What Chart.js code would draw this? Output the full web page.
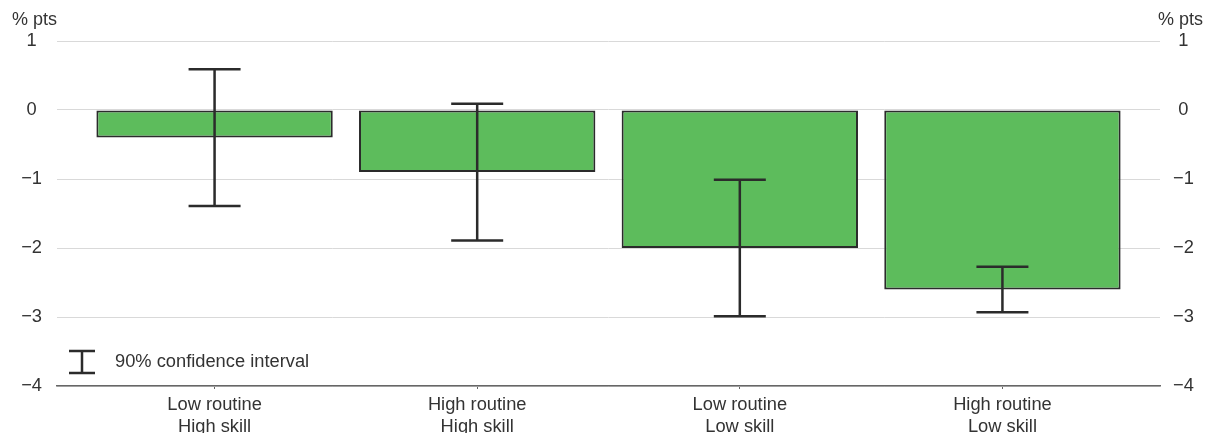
<!DOCTYPE html>
<html>
<head>
<meta charset="utf-8">
<script src="https://cdn.jsdelivr.net/npm/chart.js@4"></script>
<style>
  html, body { margin: 0; padding: 0; background: #fff; }
  #chart { display: block; }
</style>
</head>
<body>
<canvas id="chart" width="1206" height="433"></canvas>
<script>
// data
const categories = [
  ["Low routine", "High skill"],
  ["High routine", "High skill"],
  ["Low routine", "Low skill"],
  ["High routine", "Low skill"],
];
const values = [-0.4, -0.9, -2.0, -2.6];
const ciLow = [-1.39, -1.89, -2.99, -2.93];
const ciHigh = [0.59, 0.09, -1.01, -2.27];
const yTicks = [1, 0, -1, -2, -3, -4];

const FONT = "'Liberation Sans', Arial, sans-serif";
const FS = 18.3;
const TEXT = "#333";
const INK = "#2b2b2b";

function fmt(v) {
  return v < 0 ? "\u2212" + Math.abs(v) : String(v);
}

// error bars + unit labels + legend
const extras = {
  id: "extras",
  afterDatasetsDraw(chart) {
    const { ctx, scales } = chart;
    const x = scales.x, y = scales.y;
    ctx.save();
    ctx.strokeStyle = INK;
    ctx.lineWidth = 2.5;
    const cap = 26;
    values.forEach((v, i) => {
      const px = x.getPixelForValue(i);
      const top = y.getPixelForValue(ciHigh[i]);
      const bot = y.getPixelForValue(ciLow[i]);
      ctx.beginPath();
      ctx.moveTo(px, top); ctx.lineTo(px, bot);
      ctx.moveTo(px - cap, top); ctx.lineTo(px + cap, top);
      ctx.moveTo(px - cap, bot); ctx.lineTo(px + cap, bot);
      ctx.stroke();
    });

    // legend
    const lx = chart.chartArea.left + 25, ly = 362;
    ctx.beginPath();
    ctx.moveTo(lx, ly - 11); ctx.lineTo(lx, ly + 11);
    ctx.moveTo(lx - 13, ly - 11); ctx.lineTo(lx + 13, ly - 11);
    ctx.moveTo(lx - 13, ly + 11); ctx.lineTo(lx + 13, ly + 11);
    ctx.stroke();
    ctx.fillStyle = TEXT;
    ctx.font = FS + "px " + FONT;
    ctx.textBaseline = "middle";
    ctx.textAlign = "left";
    ctx.fillText("90% confidence interval", lx + 33, ly);

    // unit labels
    ctx.font = "18px " + FONT;
    ctx.textBaseline = "alphabetic";
    ctx.fillText("% pts", 12, 25);
    ctx.textAlign = "right";
    ctx.fillText("% pts", 1203, 25);
    ctx.restore();
  },
};

new Chart(document.getElementById("chart"), {
  type: "bar",
  data: {
    datasets: [{
      data: values.map((v, i) => ({ x: i, y: v })),
      backgroundColor: "#5dbc5c",
      borderColor: "#2b2b2b",
      borderWidth: 2,
      borderSkipped: false,
      barPercentage: 0.9,
      categoryPercentage: 1.0,
    }],
  },
  options: {
    responsive: false,
    animation: false,
    devicePixelRatio: 1,
    layout: { padding: { top: 41, left: 0, right: 0, bottom: 0 } },
    plugins: { legend: { display: false }, tooltip: { enabled: false } },
    scales: {
      x: {
        type: "linear",
        min: -0.6,
        max: 3.6,
        offset: false,
        afterBuildTicks: (s) => { s.ticks = categories.map((c, i) => ({ value: i })); },
        afterFit: (s) => { s.height = 47; },
        ticks: {
          callback: (v) => categories[v],
          color: TEXT,
          font: { family: FONT, size: FS, lineHeight: 1.2 },
          padding: 5,
          maxRotation: 0,
          autoSkip: false,
        },
        grid: { offset: false, drawOnChartArea: false, drawTicks: true, tickLength: 3, color: "#666" },
        border: { color: "#666", width: 1.5 },
      },
      y: {
        position: "left",
        min: -4,
        max: 1,
        afterBuildTicks: (s) => { s.ticks = yTicks.map((v) => ({ value: v })); },
        afterFit: (s) => { s.width = 57; },
        ticks: {
          callback: fmt,
          color: TEXT,
          font: { family: FONT, size: FS },
          padding: 15,
          crossAlign: "center",
          autoSkip: false,
        },
        grid: { color: "#d9d9d9", lineWidth: 1, drawTicks: false },
        border: { display: false },
      },
      y2: {
        position: "right",
        min: -4,
        max: 1,
        afterBuildTicks: (s) => { s.ticks = yTicks.map((v) => ({ value: v })); },
        afterFit: (s) => { s.width = 46; },
        ticks: {
          callback: fmt,
          color: TEXT,
          font: { family: FONT, size: FS },
          padding: 13,
          crossAlign: "center",
          autoSkip: false,
        },
        grid: { drawOnChartArea: false, drawTicks: false },
        border: { display: false },
      },
    },
  },
  plugins: [extras],
});
</script>
</body>
</html>
